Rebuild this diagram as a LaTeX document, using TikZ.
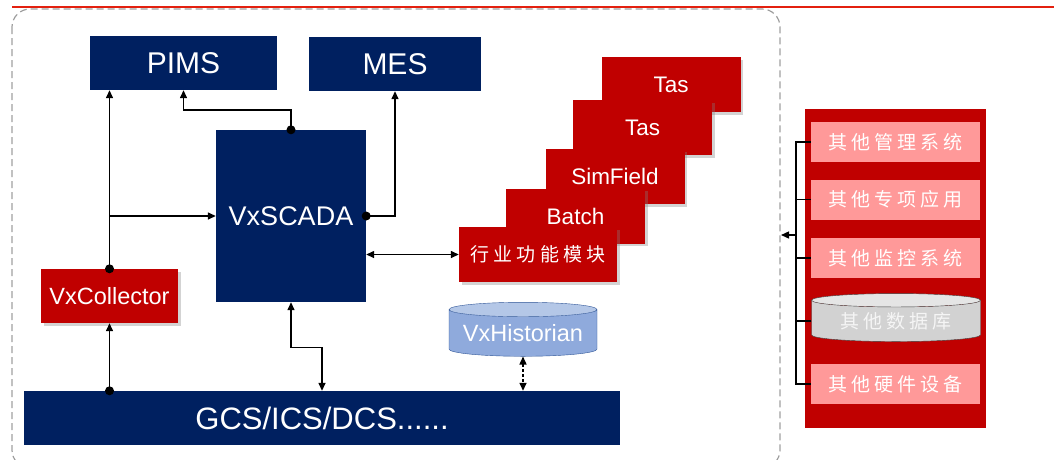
\documentclass[tikz,border=0pt]{standalone}
\usepackage{fontspec}
\setmainfont{Liberation Sans}
\newfontfamily\cjk[LetterSpace=22]{Noto Sans CJK SC}
\usetikzlibrary{shapes.geometric, arrows.meta, shadows}
\definecolor{navy}{HTML}{002060}
\definecolor{deepred}{HTML}{C00000}
\definecolor{rosebox}{HTML}{FF9999}
\definecolor{topline}{HTML}{E3200F}
\definecolor{histbody}{HTML}{8FAADC}
\definecolor{histtop}{HTML}{B4C7E7}
\definecolor{histedge}{HTML}{2F5597}
\tikzstyle{navybox} = [rectangle, fill=navy, text=white, inner sep=0pt]
\tikzstyle{redbox} = [rectangle, fill=deepred, text=white, inner sep=0pt, drop shadow={shadow xshift=2.5pt, shadow yshift=-2.5pt, opacity=0.35}]
\tikzstyle{stackbox} = [redbox, minimum width=139pt, minimum height=55pt, font=\fontsize{22.5}{26}\selectfont]
\tikzstyle{rosebox} = [rectangle, fill=rosebox, text=white, inner sep=0pt, minimum width=169pt, minimum height=40pt, font=\cjk\fontsize{19}{22}\selectfont]
\tikzstyle{link} = [line width=1.4pt, -{Triangle[length=8pt, width=7pt]}]
\tikzstyle{duplex} = [line width=1.4pt, {Triangle[length=8pt, width=7pt]}-{Triangle[length=8pt, width=7pt]}]
\tikzstyle{dbcyl} = [cylinder, shape border rotate=90, aspect=0.12, draw, inner sep=0pt, cylinder uses custom fill]

\begin{document}
\begin{tikzpicture}[x=1pt, y=-1pt]
\useasboundingbox (0,0) rectangle (1054,459);
\draw[topline, line width=2pt] (12,7) -- (1054,7);
\draw[gray!75, line width=1.2pt, dash pattern=on 7pt off 4pt, rounded corners=18pt] (12,9) rectangle (780,468);

% upper systems
\node (pims) [navybox, minimum width=187pt, minimum height=54pt, font=\fontsize{30}{36}\selectfont] at (183.5,63) {PIMS};
\node (mes) [navybox, minimum width=172pt, minimum height=54pt, font=\fontsize{30}{36}\selectfont] at (395,64) {MES};
\node (scada) [navybox, minimum width=150pt, minimum height=172pt, font=\fontsize{27}{32}\selectfont] at (291,216) {VxSCADA};
\node (coll) [redbox, minimum width=137pt, minimum height=54pt, font=\fontsize{23.5}{28}\selectfont] at (109.5,296) {VxCollector};
\node (gcs) [navybox, minimum width=596pt, minimum height=54pt, font=\fontsize{31}{36}\selectfont] at (322,418) {GCS/ICS/DCS......};
\node (hist) [dbcyl, draw=histedge, cylinder body fill=histbody, cylinder end fill=histtop, text=white, minimum width=148pt, minimum height=54pt, font=\fontsize{23.5}{28}\selectfont] at (523,333) {VxHistorian};

% module stack
\node (tasa) [stackbox] at (671,84.5) {Tas};
\node (tasb) [stackbox] at (642.5,127.5) {Tas};
\node (simf) [stackbox] at (615,176.5) {SimField};
\node (batch) [stackbox] at (575.5,216) {Batch};
\node (ind) [stackbox, minimum width=158pt, font=\cjk\fontsize{19}{22}\selectfont] at (538,254.5) {行业功能模块};

% connections
\draw [link] (scada.north) -- ++(0,-20) -| (pims.south);
\draw [link] (scada.east) -| (mes.south);
\draw [link] (coll.north) -- (coll.north |- pims.south);
\draw [link] (coll.north |- scada.west) -- (scada.west);
\draw [link] (coll.south |- gcs.north) -- (coll.south);
\draw [duplex] (scada.south) -- ++(0,45) -| (gcs.north);
\draw [duplex] (ind.west -| scada.east) -- (ind.west);
\draw [duplex, dash pattern=on 3pt off 2pt] (hist.south) -- (hist.south |- gcs.north);
\fill (scada.north) circle (4.5) (scada.east) circle (4.5) (coll.north) circle (4.5) (coll.south |- gcs.north) circle (4.5);

% other systems
\node (panel) [rectangle, fill=deepred, minimum width=181pt, minimum height=319pt] at (895.5,268.5) {};
\node (o1) [rosebox] at (895.5,142) {其他管理系统};
\node (o2) [rosebox] at (895.5,199.5) {其他专项应用};
\node (o3) [rosebox] at (895.5,258) {其他监控系统};
\node (o4) [dbcyl, draw=black!75, cylinder body fill=gray!35, cylinder end fill=gray!20, text=gray!8, minimum width=169pt, minimum height=48pt, font=\cjk\fontsize{19}{22}\selectfont] at (896,321) {其他数据库};
\node (o5) [rosebox] at (895.5,384) {其他硬件设备};
\coordinate (brk) at (796,235);
\coordinate (frame) at (781,235);
\draw [line width=1.4pt] (o1.west) -- (o1.west -| brk) |- (o5.west);
\foreach \n in {o2,o3,o4}
  \draw [line width=1.4pt] (\n.west) -- (\n.west -| brk);
\draw [link] (brk) -- (frame);
\end{tikzpicture}
\end{document}
